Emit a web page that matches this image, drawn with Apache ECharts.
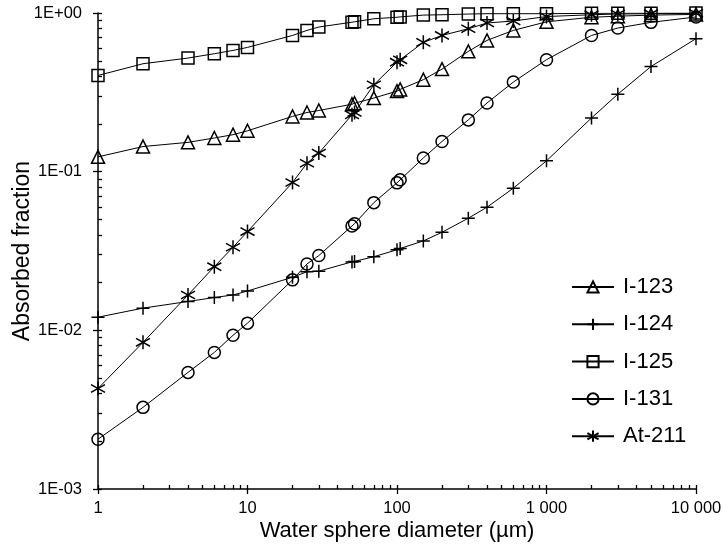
<!DOCTYPE html>
<html>
<head>
<meta charset="utf-8">
<script src="https://cdn.jsdelivr.net/npm/echarts@6/dist/echarts.min.js"></script>
<style>html,body{margin:0;padding:0;background:#fff;}#c{width:723px;height:546px;}</style>
</head>
<body>
<div id="c"></div>
<script>
// Water sphere diameter (µm)
const diameters = [1, 2, 4, 6, 8, 10, 20, 25, 30, 50, 52, 70, 100, 105, 150, 200, 300, 400, 600, 1000, 2000, 3000, 5000, 10000];
const seriesNames = ['I-123', 'I-124', 'I-125', 'I-131', 'At-211'];
const i123 = [0.124, 0.144, 0.153, 0.163, 0.171, 0.181, 0.223, 0.236, 0.243, 0.266, 0.27, 0.291, 0.322, 0.33, 0.38, 0.443, 0.573, 0.672, 0.777, 0.88, 0.94, 0.955, 0.97, 0.98];
const i124 = [0.0121, 0.0138, 0.0152, 0.0161, 0.0167, 0.0177, 0.0216, 0.0234, 0.0236, 0.027, 0.0272, 0.0291, 0.0322, 0.0328, 0.0366, 0.0415, 0.0509, 0.0597, 0.0787, 0.117, 0.218, 0.308, 0.46, 0.689];
const i125 = [0.404, 0.479, 0.52, 0.554, 0.581, 0.607, 0.722, 0.777, 0.816, 0.875, 0.88, 0.92, 0.94, 0.945, 0.97, 0.975, 0.985, 0.99, 0.99, 0.99, 0.995, 0.997, 0.998, 0.999];
const i131 = [0.00206, 0.00327, 0.00543, 0.00726, 0.0093, 0.0111, 0.0208, 0.0262, 0.0296, 0.0455, 0.047, 0.0638, 0.085, 0.0888, 0.122, 0.155, 0.212, 0.271, 0.367, 0.508, 0.722, 0.804, 0.873, 0.944];
const at211 = [0.0043, 0.0084, 0.0167, 0.0252, 0.0334, 0.0419, 0.0854, 0.113, 0.131, 0.228, 0.236, 0.353, 0.49, 0.507, 0.653, 0.722, 0.796, 0.865, 0.89, 0.95, 0.975, 0.985, 0.99, 0.995];
const xMajorTicks = [1, 10, 100, 1000, 10000];
const yMajorTicks = [0.001, 0.01, 0.1, 1];
const xTickLabels = ['1', '10', '100', '1 000', '10 000'];
const yTickLabels = ['1E-03', '1E-02', '1E-01', '1E+00'];

// tick positions in decade (log10) units for the tick-only overlay axes
function logMinorExps(loExp, hiExp) {
  const out = [];
  for (let e = loExp; e < hiExp; e++) {
    for (let k = 1; k <= 9; k++) out.push(e + Math.log10(k));
  }
  out.push(hiExp);
  return out;
}
const xMajorExps = xMajorTicks.map(v => Math.log10(v));
const yMajorExps = yMajorTicks.map(v => Math.log10(v));

const FONT = 'Arial, "Liberation Sans", sans-serif';
const plusPath = 'path://M5,0L5,10M0,5L10,5';
const starPath = 'path://M5,0L5,10M0.7,2.2L9.3,7.8M0.7,7.8L9.3,2.2';
const symbols = ['triangle', plusPath, 'rect', 'circle', starPath];
const sizes = [13, 13, 12, 12, 14];
const values = [i123, i124, i125, i131, at211];

const series = seriesNames.map((name, i) => ({
  name: name,
  type: 'line',
  xAxisIndex: 0,
  yAxisIndex: 0,
  data: diameters.map((d, j) => [d, values[i][j]]),
  symbol: symbols[i],
  symbolSize: sizes[i],
  showAllSymbol: true,
  lineStyle: { color: '#000', width: 1 },
  itemStyle: { color: 'rgba(0,0,0,0)', borderColor: '#000', borderWidth: 1.5 },
  emphasis: { disabled: true },
  animation: false
}));

const tickLine = { color: '#000', width: 1.3 };
function tickAxis(pos, min, max, vals, inside, len) {
  return {
    type: 'value', min: min, max: max, position: pos,
    axisLine: { show: false, onZero: false },
    axisTick: { show: true, inside: inside, length: len, customValues: vals, lineStyle: tickLine },
    axisLabel: { show: false },
    splitLine: { show: false }
  };
}

const option = {
  animation: false,
  backgroundColor: '#fff',
  grid: { left: 98, right: 27, top: 13, bottom: 57, containLabel: false, outerBoundsMode: 'none' },
  legend: {
    orient: 'vertical',
    left: 571,
    top: 276,
    padding: 0,
    itemWidth: 42,
    itemHeight: 14,
    itemGap: 15.3,
    data: seriesNames,
    textStyle: { fontFamily: FONT, fontSize: 22, color: '#000', padding: [0, 0, 0, 4] }
  },
  xAxis: [
    {
      type: 'log', logBase: 10, min: 1, max: 10000, position: 'bottom',
      name: 'Water sphere diameter (µm)', nameLocation: 'middle', nameGap: 31, nameMoveOverlap: false,
      nameTextStyle: { fontFamily: FONT, fontSize: 22, color: '#000' },
      axisLine: { show: true, onZero: false, lineStyle: { color: '#000', width: 1.5 } },
      axisTick: { show: false },
      axisLabel: {
        margin: 11, fontFamily: FONT, fontSize: 16.5, color: '#000',
        formatter: v => { const i = xMajorTicks.findIndex(t => Math.abs(t - v) / t < 1e-6); return i < 0 ? '' : xTickLabels[i]; }
      },
      splitLine: { show: false }
    },
    tickAxis('bottom', 0, 4, xMajorExps, false, 5),
    tickAxis('bottom', 0, 4, logMinorExps(0, 4), true, 4)
  ],
  yAxis: [
    {
      type: 'log', logBase: 10, min: 0.001, max: 1, position: 'left',
      name: 'Absorbed fraction', nameLocation: 'middle', nameGap: 64, nameRotate: 90, nameMoveOverlap: false,
      nameTextStyle: { fontFamily: FONT, fontSize: 23, color: '#000' },
      axisLine: { show: true, onZero: false, lineStyle: { color: '#000', width: 1.5 } },
      axisTick: { show: false },
      axisLabel: {
        margin: 16, fontFamily: FONT, fontSize: 16.5, color: '#000',
        formatter: v => { const i = yMajorTicks.findIndex(t => Math.abs(t - v) / t < 1e-6); return i < 0 ? '' : yTickLabels[i]; }
      },
      splitLine: { show: false }
    },
    tickAxis('left', -3, 0, yMajorExps, false, 5),
    tickAxis('left', -3, 0, logMinorExps(-3, 0), true, 4)
  ],
  series: series
};

const chart = echarts.init(document.getElementById('c'), null, { renderer: 'canvas' });
chart.setOption(option);
</script>
</body>
</html>
